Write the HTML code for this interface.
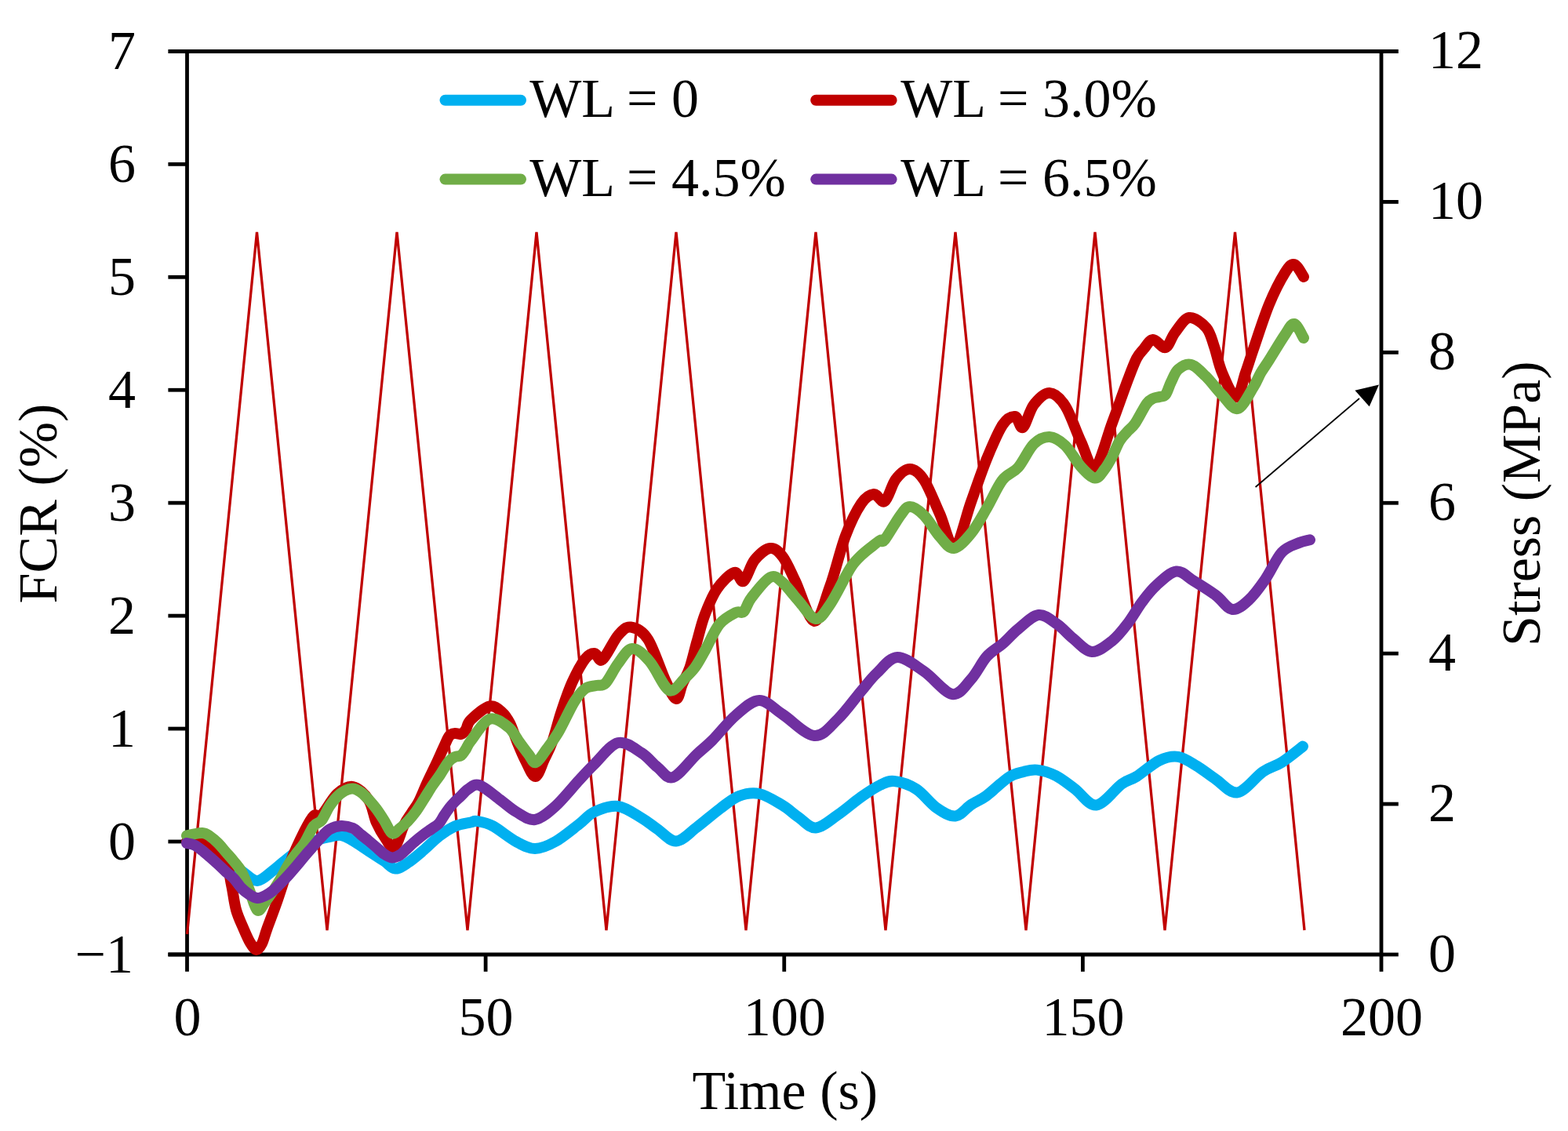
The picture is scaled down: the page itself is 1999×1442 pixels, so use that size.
<!DOCTYPE html><html><head><meta charset="utf-8"><title>FCR vs Time</title><style>html,body{margin:0;padding:0;background:#fff;overflow:hidden}svg{display:block}</style></head><body><svg width="1999" height="1442" viewBox="0 0 1999 1442">
<rect width="100%" height="100%" fill="#fff"/>
<g stroke="#000" stroke-width="4.8" fill="none" stroke-linecap="butt">
<path d="M214.4 65.5H1782.8"/>
<path d="M238.5 63.2V1238.8"/>
<path d="M1761 63.2V1219.3"/>
<path d="M214.4 1217H1761"/>
<path d="M214.4 1216.94H238.5"/>
<path d="M214.4 1073.00H238.5"/>
<path d="M214.4 929.06H238.5"/>
<path d="M214.4 785.12H238.5"/>
<path d="M214.4 641.18H238.5"/>
<path d="M214.4 497.24H238.5"/>
<path d="M214.4 353.30H238.5"/>
<path d="M214.4 209.36H238.5"/>
<path d="M619.12 1217V1238.8"/>
<path d="M999.75 1217V1238.8"/>
<path d="M1380.38 1217V1238.8"/>
<path d="M1761.00 1217V1238.8"/>
<path d="M1761 1217.00H1782.8"/>
<path d="M1761 1025.08H1782.8"/>
<path d="M1761 833.17H1782.8"/>
<path d="M1761 641.25H1782.8"/>
<path d="M1761 449.33H1782.8"/>
<path d="M1761 257.42H1782.8"/>
</g>
<path d="M238.5 1191.0 L327.5 296.0 L417.0 1186.0 L506.0 296.0 L596.0 1186.0 L684.0 296.0 L773.0 1186.0 L862.0 296.0 L951.0 1186.0 L1040.0 296.0 L1129.0 1186.0 L1218.0 296.0 L1308.0 1186.0 L1396.0 296.0 L1485.0 1186.0 L1574.5 296.0 L1663.0 1186.0" fill="none" stroke="#C00000" stroke-width="3.3" stroke-linejoin="bevel"/>
<g fill="none" stroke-width="14" stroke-linecap="round" stroke-linejoin="round">
<path d="M238.0 1073.0C240.0 1073.8 246.0 1076.2 250.0 1078.0C254.0 1079.8 257.3 1081.7 262.0 1084.0C266.7 1086.3 272.5 1089.2 278.0 1092.0C283.5 1094.8 289.7 1097.7 295.0 1101.0C300.3 1104.3 304.5 1108.3 310.0 1112.0C315.5 1115.7 321.7 1123.3 328.0 1123.0C334.3 1122.7 342.7 1113.8 348.0 1110.0C353.3 1106.2 355.0 1104.0 360.0 1100.0C365.0 1096.0 371.3 1090.5 378.0 1086.0C384.7 1081.5 393.3 1076.1 400.0 1073.0C406.7 1069.9 412.2 1068.8 418.0 1067.5C423.8 1066.2 429.7 1064.2 435.0 1065.0C440.3 1065.8 444.2 1068.7 450.0 1072.0C455.8 1075.3 463.3 1080.7 470.0 1085.0C476.7 1089.3 484.3 1094.2 490.0 1098.0C495.7 1101.8 499.0 1107.2 504.0 1107.5C509.0 1107.8 514.0 1103.9 520.0 1100.0C526.0 1096.1 533.3 1089.7 540.0 1084.0C546.7 1078.3 553.3 1071.1 560.0 1066.0C566.7 1060.9 573.3 1056.4 580.0 1053.5C586.7 1050.6 595.3 1049.6 600.0 1048.5C604.7 1047.4 603.3 1046.2 608.0 1047.0C612.7 1047.8 619.7 1048.7 628.0 1053.0C636.3 1057.3 649.0 1068.2 658.0 1073.0C667.0 1077.8 673.7 1082.0 682.0 1082.0C690.3 1082.0 698.7 1078.2 708.0 1073.0C717.3 1067.8 729.7 1057.3 738.0 1051.0C746.3 1044.7 749.7 1038.8 758.0 1035.0C766.3 1031.2 778.0 1026.7 788.0 1028.0C798.0 1029.3 809.7 1038.2 818.0 1043.0C826.3 1047.8 830.7 1052.1 838.0 1057.0C845.3 1061.9 853.7 1072.8 862.0 1072.5C870.3 1072.2 878.7 1061.9 888.0 1055.0C897.3 1048.1 909.0 1037.7 918.0 1031.0C927.0 1024.3 933.7 1018.2 942.0 1015.0C950.3 1011.8 958.7 1010.0 968.0 1012.0C977.3 1014.0 989.7 1022.0 998.0 1027.0C1006.3 1032.0 1011.0 1037.2 1018.0 1042.0C1025.0 1046.8 1031.7 1056.0 1040.0 1055.5C1048.3 1055.0 1058.3 1045.6 1068.0 1039.0C1077.7 1032.4 1089.0 1022.3 1098.0 1016.0C1107.0 1009.7 1115.0 1004.3 1122.0 1001.0C1129.0 997.7 1132.3 995.2 1140.0 996.0C1147.7 996.8 1159.0 1000.3 1168.0 1006.0C1177.0 1011.7 1185.7 1024.2 1194.0 1030.0C1202.3 1035.8 1210.7 1041.2 1218.0 1040.5C1225.3 1039.8 1231.5 1030.2 1238.0 1026.0C1244.5 1021.8 1249.0 1020.8 1257.0 1015.0C1265.0 1009.2 1278.0 996.2 1286.0 991.0C1294.0 985.8 1299.0 985.6 1305.0 984.0C1311.0 982.4 1315.2 980.8 1322.0 981.6C1328.8 982.4 1338.0 985.0 1346.0 989.0C1354.0 993.0 1361.4 999.4 1370.0 1005.6C1378.6 1011.9 1387.7 1027.5 1397.7 1026.5C1407.7 1025.5 1421.5 1005.7 1430.0 999.6C1438.5 993.5 1441.0 995.0 1449.0 990.0C1457.0 985.0 1469.2 973.8 1478.0 969.6C1486.8 965.4 1494.0 963.6 1502.0 964.8C1510.0 966.0 1518.0 972.0 1526.0 976.8C1534.0 981.6 1541.4 988.0 1550.0 993.6C1558.6 999.2 1567.7 1012.0 1577.7 1010.4C1587.7 1008.8 1600.6 990.4 1610.0 984.0C1619.4 977.6 1625.5 977.4 1634.0 972.0C1642.5 966.6 1656.5 955.0 1661.0 951.6" stroke="#00B0F0"/>
<path d="M238.0 1073.0C240.0 1072.7 245.0 1069.8 250.0 1071.0C255.0 1072.2 261.7 1075.2 268.0 1080.0C274.3 1084.8 283.5 1092.0 288.0 1100.0C292.5 1108.0 292.8 1118.0 295.0 1128.0C297.2 1138.0 298.4 1150.7 301.0 1160.0C303.6 1169.3 307.5 1177.0 310.5 1184.0C313.5 1191.0 316.2 1197.5 319.0 1202.0C321.8 1206.5 324.5 1210.8 327.0 1211.0C329.5 1211.2 331.8 1207.5 334.0 1203.0C336.2 1198.5 337.3 1192.8 340.5 1184.0C343.7 1175.2 348.1 1164.0 353.0 1150.0C357.9 1136.0 364.2 1115.0 370.0 1100.0C375.8 1085.0 383.0 1070.0 388.0 1060.0C393.0 1050.0 396.3 1043.5 400.0 1040.0C403.7 1036.5 405.0 1043.7 410.0 1039.0C415.0 1034.3 423.3 1018.0 430.0 1012.0C436.7 1006.0 443.3 1001.7 450.0 1003.0C456.7 1004.3 465.0 1012.3 470.0 1020.0C475.0 1027.7 476.3 1040.7 480.0 1049.0C483.7 1057.3 488.2 1064.7 492.0 1070.0C495.8 1075.3 499.2 1084.0 503.0 1081.0C506.8 1078.0 511.3 1059.5 515.0 1052.0C518.7 1044.5 521.8 1041.0 525.0 1036.0C528.2 1031.0 530.7 1028.5 534.0 1022.0C537.3 1015.5 541.3 1005.0 545.0 997.0C548.7 989.0 552.5 981.5 556.0 974.0C559.5 966.5 563.2 958.0 566.0 952.0C568.8 946.0 570.7 940.8 573.0 938.0C575.3 935.2 577.5 935.3 580.0 935.0C582.5 934.7 585.7 936.8 588.0 936.0C590.3 935.2 592.0 933.0 594.0 930.0C596.0 927.0 595.0 922.9 600.0 918.0C605.0 913.1 617.3 902.2 624.0 900.5C630.7 898.8 635.7 904.4 640.0 908.0C644.3 911.6 646.8 915.8 650.0 922.0C653.2 928.2 655.7 937.0 659.0 945.0C662.3 953.0 666.1 962.5 670.0 970.0C673.9 977.5 678.5 990.3 682.5 990.0C686.5 989.7 690.4 975.5 694.0 968.0C697.6 960.5 700.8 955.1 704.4 945.0C708.0 934.9 711.4 920.0 715.6 907.5C719.8 895.0 724.3 881.2 729.4 870.0C734.5 858.8 741.2 846.2 746.0 840.0C750.8 833.8 754.3 832.8 758.0 833.0C761.7 833.2 763.0 844.8 768.0 841.0C773.0 837.2 782.0 816.9 788.0 810.0C794.0 803.1 797.7 798.7 804.0 799.5C810.3 800.3 818.7 803.8 826.0 815.0C833.3 826.2 842.0 854.3 848.0 867.0C854.0 879.7 858.3 890.2 862.0 891.0C865.7 891.8 867.1 878.7 870.0 872.0C872.9 865.3 876.4 860.0 879.5 851.0C882.6 842.0 885.3 829.2 888.5 818.0C891.7 806.8 894.2 795.2 898.5 784.0C902.8 772.8 907.8 760.0 914.0 751.0C920.2 742.0 930.3 731.7 936.0 730.0C941.7 728.3 943.7 743.7 948.0 741.0C952.3 738.3 956.3 721.0 962.0 714.0C967.7 707.0 976.0 699.7 982.0 699.0C988.0 698.3 992.7 703.0 998.0 710.0C1003.3 717.0 1007.3 727.3 1014.0 741.0C1020.7 754.7 1030.7 790.8 1038.0 792.0C1045.3 793.2 1051.3 766.2 1058.0 748.0C1064.7 729.8 1071.3 700.7 1078.0 683.0C1084.7 665.3 1092.0 650.8 1098.0 642.0C1104.0 633.2 1109.0 630.5 1114.0 630.0C1119.0 629.5 1123.3 642.2 1128.0 639.0C1132.7 635.8 1136.7 617.8 1142.0 611.0C1147.3 604.2 1154.0 597.8 1160.0 598.0C1166.0 598.2 1171.7 602.5 1178.0 612.0C1184.3 621.5 1191.5 640.8 1198.0 655.0C1204.5 669.2 1210.3 699.5 1217.0 697.0C1223.7 694.5 1231.2 658.7 1238.0 640.0C1244.8 621.3 1251.3 601.3 1258.0 585.0C1264.7 568.7 1272.0 551.0 1278.0 542.0C1284.0 533.0 1289.7 530.5 1294.0 531.0C1298.3 531.5 1300.0 547.5 1304.0 545.0C1308.0 542.5 1312.3 523.3 1318.0 516.0C1323.7 508.7 1331.3 500.8 1338.0 501.0C1344.7 501.2 1351.3 507.2 1358.0 517.5C1364.7 527.8 1371.7 549.9 1378.0 563.0C1384.3 576.1 1389.3 600.0 1396.0 596.0C1402.7 592.0 1411.0 557.7 1418.0 539.0C1425.0 520.3 1432.8 497.7 1438.0 484.0C1443.2 470.3 1445.7 463.5 1449.0 457.0C1452.3 450.5 1454.5 449.0 1458.0 445.0C1461.5 441.0 1465.3 433.3 1470.0 433.0C1474.7 432.7 1481.3 444.5 1486.0 443.0C1490.7 441.5 1493.0 430.3 1498.0 424.0C1503.0 417.7 1509.3 406.0 1516.0 405.0C1522.7 404.0 1532.7 411.8 1538.0 418.0C1543.3 424.2 1544.7 432.5 1548.0 442.0C1551.3 451.5 1553.3 464.2 1558.0 475.0C1562.7 485.8 1571.0 506.5 1576.0 506.5C1581.0 506.5 1584.3 485.2 1588.0 475.0C1591.7 464.8 1593.0 459.5 1598.0 445.0C1603.0 430.5 1611.3 404.2 1618.0 388.0C1624.7 371.8 1632.7 356.5 1638.0 348.0C1643.3 339.5 1646.0 336.2 1650.0 337.0C1654.0 337.8 1660.0 350.3 1662.0 353.0" stroke="#C00000"/>
<path d="M238.0 1065.5C241.3 1064.9 253.0 1061.8 258.0 1062.0C263.0 1062.2 264.7 1064.3 268.0 1066.5C271.3 1068.7 274.7 1071.7 278.0 1075.0C281.3 1078.3 284.7 1082.7 288.0 1086.5C291.3 1090.3 294.7 1093.8 298.0 1098.0C301.3 1102.2 304.7 1105.3 308.0 1111.5C311.3 1117.7 314.7 1126.8 318.0 1135.0C321.3 1143.2 324.7 1158.0 328.0 1160.5C331.3 1163.0 334.7 1154.1 338.0 1150.0C341.3 1145.9 344.7 1141.0 348.0 1136.0C351.3 1131.0 354.7 1125.7 358.0 1120.0C361.3 1114.3 364.7 1107.3 368.0 1102.0C371.3 1096.7 374.7 1092.5 378.0 1088.0C381.3 1083.5 384.3 1080.8 388.0 1075.0C391.7 1069.2 396.3 1057.8 400.0 1053.0C403.7 1048.2 406.7 1050.2 410.0 1046.0C413.3 1041.8 416.7 1033.1 420.0 1028.0C423.3 1022.9 426.7 1018.8 430.0 1015.5C433.3 1012.2 436.7 1009.7 440.0 1008.0C443.3 1006.3 446.7 1005.2 450.0 1005.5C453.3 1005.8 456.7 1007.7 460.0 1010.0C463.3 1012.3 466.7 1015.9 470.0 1019.5C473.3 1023.1 476.7 1027.0 480.0 1031.5C483.3 1036.0 486.7 1041.3 490.0 1046.5C493.3 1051.7 496.7 1060.9 500.0 1062.5C503.3 1064.1 506.7 1058.6 510.0 1056.0C513.3 1053.4 516.7 1050.5 520.0 1047.0C523.3 1043.5 526.5 1039.8 530.0 1035.0C533.5 1030.2 537.5 1023.5 541.0 1018.0C544.5 1012.5 547.7 1007.0 551.0 1002.0C554.3 997.0 557.5 993.2 561.0 988.0C564.5 982.8 568.8 974.8 572.0 971.0C575.2 967.2 577.3 966.3 580.0 965.0C582.7 963.7 585.7 964.7 588.0 963.0C590.3 961.3 592.0 958.0 594.0 955.0C596.0 952.0 595.0 951.3 600.0 945.0C605.0 938.7 616.0 920.0 624.0 917.0C632.0 914.0 641.7 922.2 648.0 927.0C654.3 931.8 657.7 940.2 662.0 946.0C666.3 951.8 670.5 957.7 674.0 962.0C677.5 966.3 679.2 973.2 683.0 972.0C686.8 970.8 692.1 961.6 697.0 955.0C701.9 948.4 706.7 942.5 712.5 932.5C718.3 922.5 726.4 904.1 732.0 895.0C737.6 885.9 741.3 881.5 746.0 878.0C750.7 874.5 755.7 875.2 760.0 874.0C764.3 872.8 767.3 875.7 772.0 871.0C776.7 866.3 782.3 853.3 788.0 846.0C793.7 838.7 799.3 827.5 806.0 827.0C812.7 826.5 821.0 835.0 828.0 843.0C835.0 851.0 843.0 868.8 848.0 875.0C853.0 881.2 854.0 881.5 858.0 880.0C862.0 878.5 867.3 870.8 872.0 866.0C876.7 861.2 881.5 857.2 886.0 851.0C890.5 844.8 893.8 838.2 899.0 829.0C904.2 819.8 910.5 804.0 917.0 796.0C923.5 788.0 932.8 783.7 938.0 781.0C943.2 778.3 944.7 783.2 948.0 780.0C951.3 776.8 952.3 769.3 958.0 762.0C963.7 754.7 975.3 739.2 982.0 736.0C988.7 732.8 992.0 738.0 998.0 743.0C1004.0 748.0 1011.0 758.3 1018.0 766.0C1025.0 773.7 1033.3 788.2 1040.0 789.0C1046.7 789.8 1051.7 780.0 1058.0 771.0C1064.3 762.0 1073.2 743.5 1078.0 735.0C1082.8 726.5 1083.8 724.3 1087.0 720.0C1090.2 715.7 1093.2 712.7 1097.0 709.0C1100.8 705.3 1105.8 701.3 1110.0 698.0C1114.2 694.7 1119.0 690.7 1122.0 689.0C1125.0 687.3 1123.7 693.3 1128.0 688.0C1132.3 682.7 1142.7 664.0 1148.0 657.0C1153.3 650.0 1155.0 646.0 1160.0 646.0C1165.0 646.0 1171.7 650.7 1178.0 657.0C1184.3 663.3 1191.7 677.0 1198.0 684.0C1204.3 691.0 1209.3 699.7 1216.0 699.0C1222.7 698.3 1231.0 688.5 1238.0 680.0C1245.0 671.5 1251.3 659.3 1258.0 648.0C1264.7 636.7 1271.3 620.7 1278.0 612.0C1284.7 603.3 1291.3 603.7 1298.0 596.0C1304.7 588.3 1311.3 572.5 1318.0 566.0C1324.7 559.5 1331.3 556.7 1338.0 557.0C1344.7 557.3 1351.3 561.7 1358.0 568.0C1364.7 574.3 1371.7 588.1 1378.0 595.0C1384.3 601.9 1391.0 608.9 1396.0 609.5C1401.0 610.1 1404.3 603.1 1408.0 598.5C1411.7 593.9 1414.8 588.1 1418.0 582.0C1421.2 575.9 1424.3 567.2 1427.5 562.0C1430.7 556.8 1433.8 554.2 1437.0 550.5C1440.2 546.8 1442.9 545.9 1447.0 540.0C1451.1 534.1 1457.8 520.3 1461.6 515.0C1465.4 509.7 1467.3 509.5 1470.0 508.0C1472.7 506.5 1475.3 506.8 1478.0 506.0C1480.7 505.2 1483.5 506.2 1486.0 503.0C1488.5 499.8 1490.3 492.3 1493.0 487.0C1495.7 481.7 1497.8 474.7 1502.0 471.0C1506.2 467.3 1512.2 463.3 1518.0 464.7C1523.8 466.1 1530.3 473.1 1537.0 479.6C1543.7 486.1 1551.2 496.6 1558.0 503.5C1564.8 510.4 1571.4 522.6 1578.0 521.0C1584.6 519.4 1592.8 501.6 1597.7 494.0C1602.6 486.4 1604.0 481.0 1607.4 475.2C1610.8 469.4 1612.9 467.0 1618.0 459.0C1623.1 451.0 1632.7 434.7 1638.0 427.0C1643.3 419.3 1646.0 412.3 1650.0 413.0C1654.0 413.7 1660.0 428.0 1662.0 431.0" stroke="#70AD47"/>
<path d="M238.0 1075.0C239.7 1075.4 244.7 1075.9 248.0 1077.5C251.3 1079.1 254.7 1081.9 258.0 1084.5C261.3 1087.1 264.7 1090.1 268.0 1093.0C271.3 1095.9 274.7 1098.9 278.0 1102.0C281.3 1105.1 284.7 1108.5 288.0 1111.5C291.3 1114.5 294.7 1116.5 298.0 1120.0C301.3 1123.5 304.7 1129.1 308.0 1132.5C311.3 1135.9 314.7 1138.4 318.0 1140.5C321.3 1142.6 324.7 1144.8 328.0 1145.0C331.3 1145.2 334.7 1143.6 338.0 1142.0C341.3 1140.4 344.7 1138.2 348.0 1135.5C351.3 1132.8 354.7 1129.3 358.0 1126.0C361.3 1122.7 364.7 1119.2 368.0 1115.5C371.3 1111.8 374.7 1107.9 378.0 1104.0C381.3 1100.1 384.7 1095.9 388.0 1092.0C391.3 1088.1 394.7 1084.3 398.0 1080.5C401.3 1076.7 404.3 1072.8 408.0 1069.0C411.7 1065.2 415.5 1060.2 420.0 1057.5C424.5 1054.8 430.0 1053.2 435.0 1053.0C440.0 1052.8 445.8 1054.2 450.0 1056.0C454.2 1057.8 456.7 1061.3 460.0 1064.0C463.3 1066.7 466.7 1069.2 470.0 1072.0C473.3 1074.8 476.7 1077.7 480.0 1080.5C483.3 1083.3 486.7 1086.8 490.0 1089.0C493.3 1091.2 496.7 1093.3 500.0 1093.5C503.3 1093.7 506.7 1092.1 510.0 1090.0C513.3 1087.9 516.7 1084.0 520.0 1081.0C523.3 1078.0 526.7 1074.8 530.0 1072.0C533.3 1069.2 536.7 1066.5 540.0 1064.0C543.3 1061.5 546.8 1059.3 550.0 1057.0C553.2 1054.7 556.8 1052.8 559.5 1050.0C562.2 1047.2 563.8 1043.3 566.0 1040.0C568.2 1036.7 570.7 1033.0 573.0 1030.0C575.3 1027.0 577.6 1024.5 580.0 1022.0C582.4 1019.5 584.7 1017.7 587.5 1015.0C590.3 1012.3 593.1 1008.3 597.0 1006.0C600.9 1003.7 604.2 998.7 611.0 1001.0C617.8 1003.3 630.2 1014.3 638.0 1020.0C645.8 1025.7 650.7 1030.8 658.0 1035.0C665.3 1039.2 673.7 1046.2 682.0 1045.0C690.3 1043.8 698.7 1036.3 708.0 1028.0C717.3 1019.7 729.7 1004.0 738.0 995.0C746.3 986.0 749.7 982.0 758.0 974.0C766.3 966.0 778.0 949.3 788.0 947.0C798.0 944.7 809.7 954.8 818.0 960.0C826.3 965.2 831.3 972.8 838.0 978.0C844.7 983.2 849.7 993.7 858.0 991.0C866.3 988.3 879.7 969.8 888.0 962.0C896.3 954.2 899.7 952.3 908.0 944.0C916.3 935.7 928.0 920.5 938.0 912.0C948.0 903.5 958.0 893.2 968.0 893.0C978.0 892.8 986.3 903.5 998.0 911.0C1009.7 918.5 1026.3 937.0 1038.0 938.0C1049.7 939.0 1058.0 926.5 1068.0 917.0C1078.0 907.5 1089.7 890.8 1098.0 881.0C1106.3 871.2 1110.3 865.2 1118.0 858.0C1125.7 850.8 1134.0 838.3 1144.0 838.0C1154.0 837.7 1166.3 848.2 1178.0 856.0C1189.7 863.8 1204.0 883.3 1214.0 885.0C1224.0 886.7 1230.7 874.0 1238.0 866.0C1245.3 858.0 1251.3 844.5 1258.0 837.0C1264.7 829.5 1271.3 826.8 1278.0 821.0C1284.7 815.2 1290.3 808.2 1298.0 802.0C1305.7 795.8 1315.7 785.0 1324.0 784.0C1332.3 783.0 1340.7 791.0 1348.0 796.0C1355.3 801.0 1360.7 808.2 1368.0 814.0C1375.3 819.8 1383.7 830.5 1392.0 831.0C1400.3 831.5 1410.3 823.1 1418.0 817.0C1425.7 810.9 1431.7 802.8 1438.0 794.5C1444.3 786.2 1450.0 775.5 1456.0 767.5C1462.0 759.5 1466.7 752.9 1474.0 746.4C1481.3 739.9 1491.6 729.4 1499.6 728.5C1507.6 727.6 1513.6 735.7 1522.0 740.8C1530.4 745.9 1541.8 753.0 1550.0 759.0C1558.2 765.0 1564.0 776.0 1571.0 777.0C1578.0 778.0 1585.0 771.4 1592.0 765.0C1599.0 758.6 1606.0 748.8 1613.0 738.7C1620.0 728.6 1627.0 712.1 1634.0 704.4C1641.0 696.7 1649.0 695.2 1655.0 692.5C1661.0 689.8 1667.5 689.0 1670.0 688.3" stroke="#7030A0"/>
</g>
<g fill="#000" stroke="none"><path d="M1600.6 621L1733 508" stroke="#000" stroke-width="1.8"/>
<path d="M1758 490.6L1727.4 497.7L1745.7 518.3Z"/></g>
<g stroke-linecap="round" stroke-width="14" fill="none">
<path d="M567.5 127.8H664" stroke="#00B0F0"/>
<path d="M567.5 228.6H664" stroke="#70AD47"/>
<path d="M1040.2 127.8H1136.6" stroke="#C00000"/>
<path d="M1040.2 228.6H1136.6" stroke="#7030A0"/>
</g>
<g font-family="Liberation Serif, 'Times New Roman', serif" font-size="70" fill="#000">
<text x="675.3" y="149.3">WL = 0</text>
<text x="675.3" y="250.1">WL = 4.5%</text>
<text x="1148.2" y="149.3">WL = 3.0%</text>
<text x="1148.2" y="250.1">WL = 6.5%</text>
<text x="170" y="1239.6" text-anchor="end">−1</text>
<text x="173" y="1095.7" text-anchor="end">0</text>
<text x="173" y="951.8" text-anchor="end">1</text>
<text x="173" y="807.8" text-anchor="end">2</text>
<text x="173" y="663.9" text-anchor="end">3</text>
<text x="173" y="519.9" text-anchor="end">4</text>
<text x="173" y="376.0" text-anchor="end">5</text>
<text x="173" y="232.1" text-anchor="end">6</text>
<text x="173" y="88.1" text-anchor="end">7</text>
<text x="239.0" y="1320.3" text-anchor="middle">0</text>
<text x="619.6" y="1320.3" text-anchor="middle">50</text>
<text x="1000.2" y="1320.3" text-anchor="middle">100</text>
<text x="1380.9" y="1320.3" text-anchor="middle">150</text>
<text x="1761.5" y="1320.3" text-anchor="middle">200</text>
<text x="1821" y="1238.8">0</text>
<text x="1821" y="1046.9">2</text>
<text x="1821" y="855.0">4</text>
<text x="1821" y="663.0">6</text>
<text x="1821" y="471.1">8</text>
<text x="1821" y="279.2">10</text>
<text x="1821" y="87.3">12</text>
<text x="1000.7" y="1413.8" text-anchor="middle">Time (s)</text>
<text transform="translate(72 642) rotate(-90)" text-anchor="middle">FCR (%)</text>
<text transform="translate(1962.5 642.2) rotate(-90)" text-anchor="middle">Stress (MPa)</text>
</g>
</svg></body></html>
